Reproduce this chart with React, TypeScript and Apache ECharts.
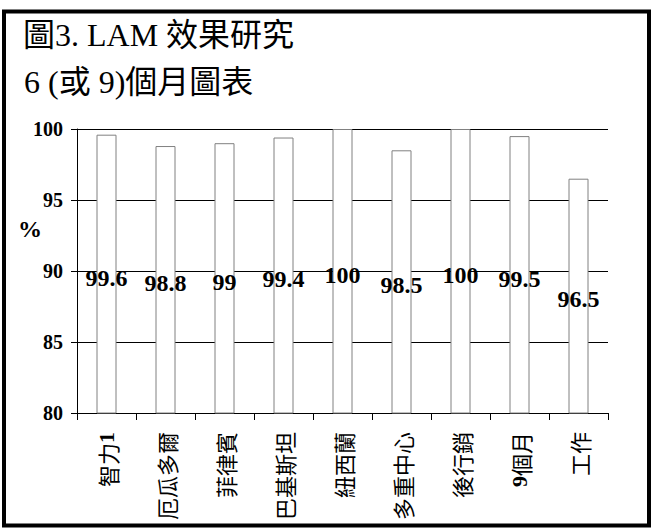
import React, { useEffect, useRef } from "react";
import * as echarts from "echarts";

const categories = ["智力1", "厄瓜多爾", "菲律賓", "巴基斯坦", "紐西蘭", "多重中心", "後行銷", "9個月", "工作"];
const values = [99.6, 98.8, 99, 99.4, 100, 98.5, 100, 99.5, 96.5];
const yTicks = [80, 85, 90, 95, 100];
const titleLine1 = "圖3. LAM 效果研究";
const titleLine2 = "6 (或 9)個月圖表";
const yName = "%";

const SERIF = "'Liberation Serif', 'Times New Roman', 'Noto Sans CJK TC', serif";

export default function App() {
  const ref = useRef<HTMLDivElement>(null);
  useEffect(() => {
    if (!ref.current) return;
    const chart = echarts.init(ref.current, null, { renderer: "svg" });
    chart.setOption({
      animation: false,
      backgroundColor: "#ffffff",
      grid: { left: 77, right: 45, top: 129, bottom: 116, containLabel: false },
      xAxis: {
        type: "category",
        data: categories,
        axisLine: { show: true, lineStyle: { color: "#000", width: 1 } },
        axisTick: { show: true, length: 7, alignWithLabel: false, lineStyle: { color: "#000" } },
        axisLabel: {
          rotate: 90,
          margin: 19,
          interval: 0,
          fontSize: 22,
          color: "#000",
          fontFamily: "'Noto Sans CJK TC', sans-serif",
          formatter: (v: string) => v.replace(/(\d+)/g, "{d|$1}"),
          rich: {
            d: { fontSize: 22, fontWeight: "bold", fontFamily: SERIF, color: "#000" },
          },
        },
        splitLine: { show: false },
      },
      yAxis: [
        {
          type: "value",
          min: yTicks[0],
          max: yTicks[yTicks.length - 1],
          interval: 5,
          axisLine: { show: true, lineStyle: { color: "#000", width: 1 } },
          axisTick: { show: true, length: 6, lineStyle: { color: "#000" } },
          axisLabel: {
            margin: 14,
            fontSize: 20,
            fontWeight: "bold",
            fontFamily: SERIF,
            color: "#000",
          },
          splitLine: { show: true, lineStyle: { color: "#000", width: 1 } },
        },
        {
          type: "value",
          min: 80,
          max: 121.2,
          show: false,
          splitLine: { show: false },
        },
      ],
      series: [
        {
          type: "bar",
          data: values,
          barWidth: 20,
          itemStyle: { color: "#ffffff", borderColor: "#808080", borderWidth: 1 },
          silent: true,
        },
        {
          type: "scatter",
          yAxisIndex: 1,
          data: values,
          symbolSize: 1,
          itemStyle: { color: "rgba(0,0,0,0)" },
          silent: true,
          label: {
            show: true,
            position: "inside",
            fontSize: 24,
            fontWeight: "bold",
            fontFamily: SERIF,
            color: "#000000",
            opacity: 1,
            textBorderWidth: 0,
            formatter: (p: any) => String(p.value),
          },
          z: 5,
        },
      ],
      graphic: [
        {
          type: "rect",
          shape: { x: 4, y: 11.5, width: 645, height: 514 },
          style: { fill: "none", stroke: "#000", lineWidth: 4 },
          silent: true,
        },
        {
          type: "text",
          x: 23,
          y: 35,
          style: {
            text: titleLine1,
            fontSize: 32,
            fontFamily: SERIF,
            fill: "#000",
            verticalAlign: "middle",
            textAlign: "left",
          },
        },
        {
          type: "text",
          x: 24,
          y: 82,
          style: {
            text: titleLine2,
            fontSize: 32,
            fontFamily: SERIF,
            fill: "#000",
            verticalAlign: "middle",
            textAlign: "left",
          },
        },
        {
          type: "text",
          x: 30,
          y: 229,
          style: {
            text: yName,
            fontSize: 24,
            fontWeight: "bold",
            fontFamily: SERIF,
            fill: "#000",
            verticalAlign: "middle",
            textAlign: "center",
          },
        },
      ],
    });
    return () => chart.dispose();
  }, []);
  return (
    <div
      ref={ref}
      style={{ position: "fixed", left: 0, top: 0, width: 653, height: 529, background: "#fff" }}
    />
  );
}
